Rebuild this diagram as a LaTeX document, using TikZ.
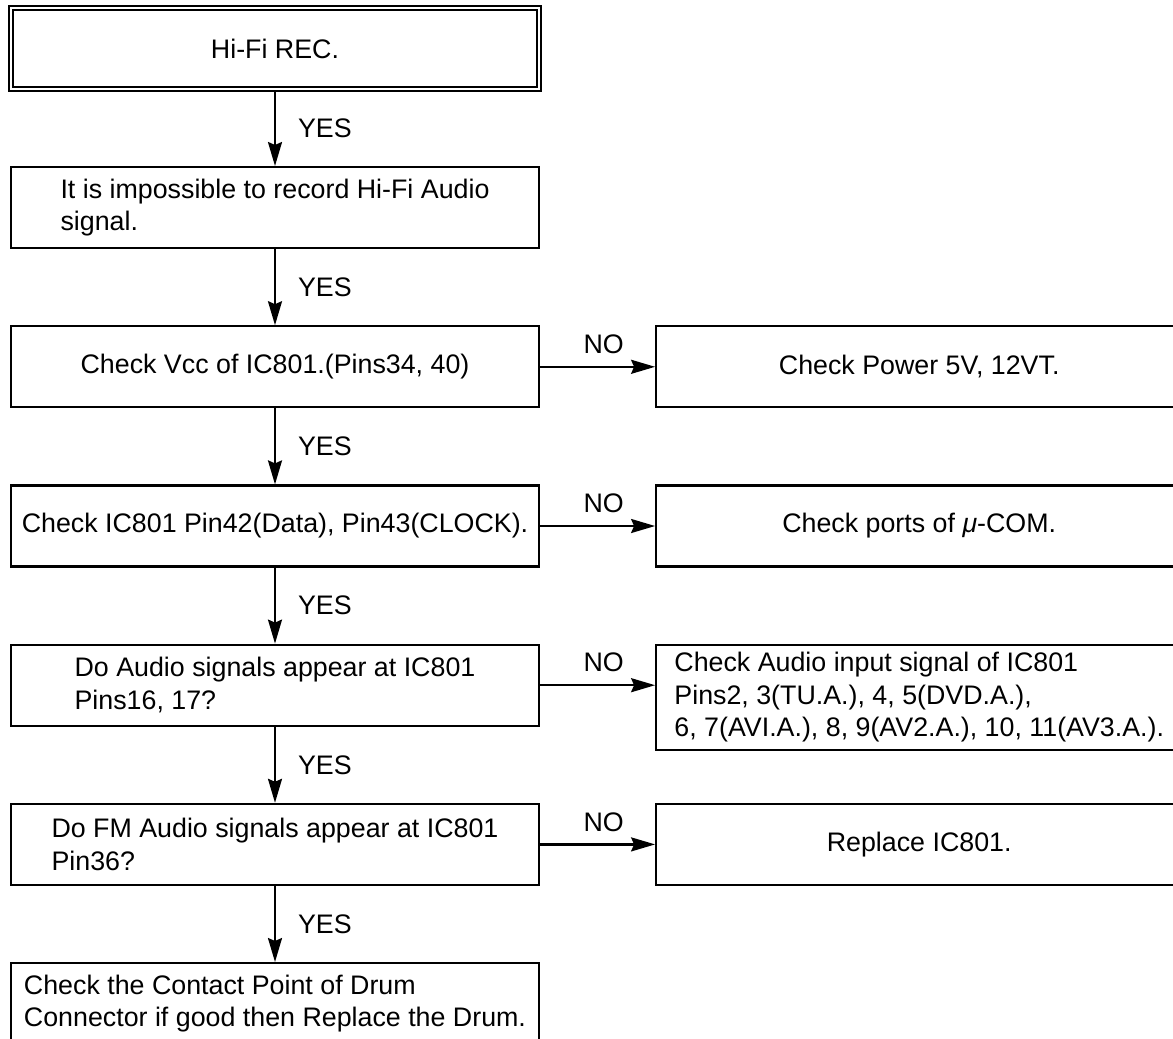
\documentclass[tikz,border=0pt]{standalone}
\usepackage{fontspec}
\setmainfont{Liberation Sans}
\usetikzlibrary{arrows.meta, positioning}

\begin{document}
\begin{tikzpicture}[
  x=0.5pt, y=-0.5pt,
  chk/.style={draw, line width=1.1pt, align=left, inner sep=2pt,
              minimum width=264pt, minimum height=40.5pt},
  side/.style={chk, minimum width=263pt},
  flow/.style={-{Stealth[length=12pt, width=7pt, inset=1.5pt]}, line width=1.1pt},
  ans/.style={inner sep=1pt},
  node distance=38pt,
  font=\fontsize{13.4pt}{16.4pt}\selectfont
]
\path[use as bounding box, clip] (0,0) rectangle (1173,1039);

\node[chk, double, double distance=1.1pt, line width=1pt] (start) at (275,48.5) {Hi-Fi REC.};
\node[chk, below=of start] (nosig) {It is impossible to record Hi-Fi Audio\\signal.};
\node[chk, below=of nosig] (vcc)   {Check Vcc of IC801.(Pins34, 40)};
\node[chk, below=of vcc]   (bus)   {Check IC801 Pin42(Data), Pin43(CLOCK).};
\node[chk, below=of bus]   (ain)   {Do Audio signals appear at IC801\\Pins16, 17?};
\node[chk, below=of ain]   (fm)    {Do FM Audio signals appear at IC801\\Pin36?};
\node[chk, below=of fm]    (drum)  {Check the Contact Point of Drum\\Connector if good then Replace the Drum.};

\node[side, right=57.5pt of vcc] (power) {Check Power 5V, 12VT.};
\node[side, right=57.5pt of bus] (ports) {Check ports of \textit{μ}-COM.};
\node[side, minimum height=52.5pt, below right=0pt and 57.5pt of ain.north east] (input)
  {Check Audio input signal of IC801\\Pins2, 3(TU.A.), 4, 5(DVD.A.),\\6, 7(AVI.A.), 8, 9(AV2.A.), 10, 11(AV3.A.).};
\node[side, right=57.5pt of fm]  (ic)    {Replace IC801.};

\draw[flow] (start) -- node[ans, right=10pt]{YES} (nosig);
\draw[flow] (nosig) -- node[ans, right=10pt]{YES} (vcc);
\draw[flow] (vcc)   -- node[ans, right=10pt]{YES} (bus);
\draw[flow] (bus)   -- node[ans, right=10pt]{YES} (ain);
\draw[flow] (ain)   -- node[ans, right=10pt]{YES} (fm);
\draw[flow] (fm)    -- node[ans, right=10pt]{YES} (drum);

\draw[flow] (vcc) -- node[ans, above=5pt, xshift=3pt]{NO} (power);
\draw[flow] (bus) -- node[ans, above=5pt, xshift=3pt]{NO} (ports);
\draw[flow] (ain) -- node[ans, above=5pt, xshift=3pt]{NO} (ain -| input.west);
\draw[flow] (fm)  -- node[ans, above=5pt, xshift=3pt]{NO} (ic);

\end{tikzpicture}
\end{document}
